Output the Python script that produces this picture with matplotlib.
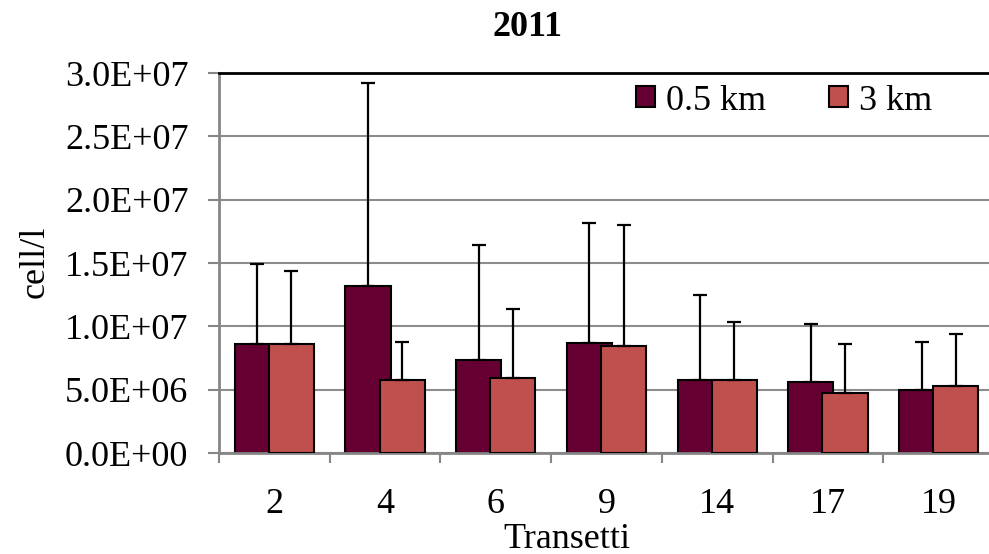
import numpy as np
import matplotlib
matplotlib.use("Agg")
from matplotlib import pyplot as plt
from matplotlib.ticker import FuncFormatter

transetti = ["2", "4", "6", "9", "14", "17", "19"]
km05 = [8.63e6, 13.2e6, 7.34e6, 8.68e6, 5.74e6, 5.6e6, 4.97e6]
km05_err = [6.3e6, 16.0e6, 9.1e6, 9.5e6, 6.7e6, 4.6e6, 3.8e6]
km3 = [8.63e6, 5.74e6, 5.9e6, 8.45e6, 5.74e6, 4.76e6, 5.26e6]
km3_err = [5.7e6, 3.0e6, 5.45e6, 9.55e6, 4.6e6, 3.85e6, 4.15e6]

plt.rcParams['font.family'] = ['Liberation Serif', 'DejaVu Serif']

fig = plt.figure(figsize=(9.89, 5.54), dpi=100)
ax = fig.add_axes([219/989, 1 - 453/554, 775/989, 380/554])

x = np.arange(len(transetti))
w = 0.407
off = 0.154
dark = '#660033'
light = '#C0504D'
fs = 26

ax.bar(x - off, km05, w, color=dark, edgecolor='black', linewidth=1.5, zorder=2, label='0.5 km')
ax.errorbar(x - off, km05, yerr=[np.zeros(len(x)), km05_err], fmt='none', ecolor='black',
            elinewidth=1.6, capsize=4.7, capthick=1.6, zorder=2.5)
ax.bar(x + off, km3, w, color=light, edgecolor='black', linewidth=1.5, zorder=3, label='3 km')
ax.errorbar(x + off, km3, yerr=[np.zeros(len(x)), km3_err], fmt='none', ecolor='black',
            elinewidth=1.6, capsize=4.7, capthick=1.6, zorder=3.5)

ax.set_xlim(-0.5, 6.5)
ax.set_ylim(0, 3.0e7)
ax.set_yticks(np.arange(0, 3.01e7, 5e6))
ax.yaxis.set_major_formatter(FuncFormatter(lambda v, p: f"{v:.1E}"))
ax.set_xticks(np.arange(-0.5, 7, 1))
ax.set_xticklabels([])
ax.set_xticks(x, minor=True)
ax.set_xticklabels(transetti, minor=True)
ax.tick_params(axis='x', which='minor', length=0, labelsize=fs, pad=25)
ax.tick_params(axis='x', which='major', length=7, width=1.5, color='#868686')
ax.tick_params(axis='y', length=8, width=1.5, color='#868686', labelsize=fs, pad=14)

ax.grid(axis='y', color='#8c8c8c', linewidth=1.5, zorder=0)
ax.set_axisbelow(True)
for s in ['left', 'bottom']:
    ax.spines[s].set_color('#868686')
    ax.spines[s].set_linewidth(2)
ax.spines['top'].set_color('black')
ax.spines['top'].set_linewidth(2)
ax.spines['right'].set_color('black')

fig.text(527/989, 1 - 27/554, "2011", ha='center', va='center', fontsize=fs, fontweight='bold')
fig.text(567/989, 1 - 539/554, "Transetti", ha='center', va='center', fontsize=fs)
fig.text(35/989, 1 - 262/554, "cell/l", ha='center', va='center', fontsize=fs, rotation=90)

ax.legend(loc='center left', bbox_to_anchor=(417/775, 1 - 28/380), ncol=2, frameon=False, fontsize=fs,
          handlelength=0.52, handleheight=0.52, handletextpad=0.3, columnspacing=1.75,
          borderaxespad=0, borderpad=0)

fig.savefig("out.png", dpi=100)
